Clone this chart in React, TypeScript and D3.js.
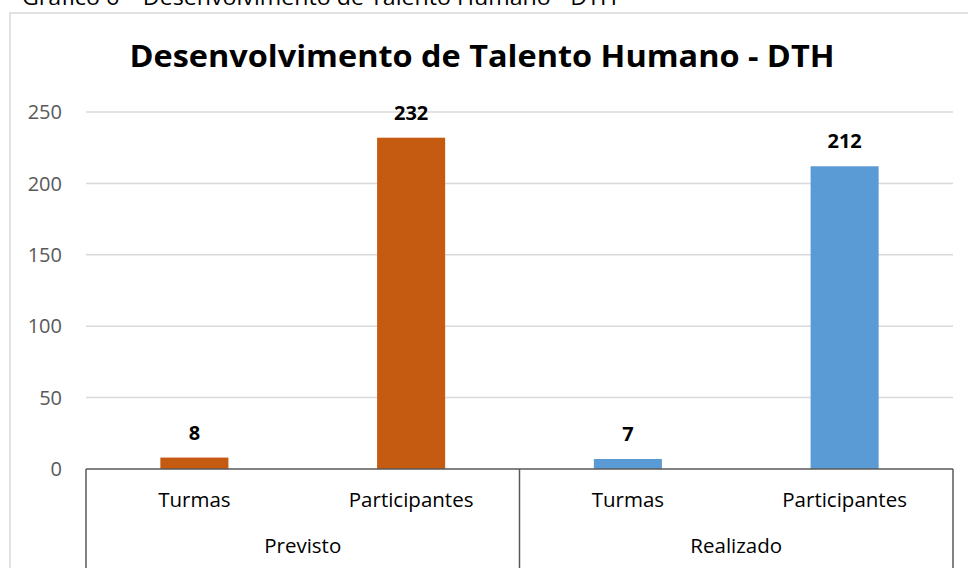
import * as d3 from "d3";

const groups = ["Previsto", "Realizado"];
const categories = ["Turmas", "Participantes"];
const previsto = [8, 232];
const realizado = [7, 212];
const yTicks = [0, 50, 100, 150, 200, 250];
const colors = ["#C55A11", "#5B9BD5"];
const title = "Desenvolvimento de Talento Humano - DTH";
const caption = "Gráfico 6 – Desenvolvimento de Talento Humano - DTH";

const W = 968;
const H = 568;
const font = "'Open Sans', sans-serif";

const App = () => {
    const margin = {top: 112, right: 15, bottom: 99, left: 86};
    const innerW = W - margin.left - margin.right;
    const y0 = H - margin.bottom;

    const series = [previsto, realizado];

    const x0 = d3.scaleBand<string>().domain(groups).range([margin.left, margin.left + innerW]);
    const x1 = d3.scaleBand<string>().domain(categories).range([0, x0.bandwidth()]);
    const y = d3.scaleLinear().domain([0, 250]).range([y0, margin.top]);

    const barW = x1.bandwidth() * 0.314;
    const x0Right = margin.left + innerW;

    return (
        <svg width={W} height={H} style={{position: "absolute", left: 0, top: 0}} fontFamily={font}>
            <rect width={W} height={H} fill="#fff"/>
            {/* caption, cut off at the top like the source */}
            <text x={22} y={5} fontSize={22} fill="#000" textLength={595} lengthAdjust="spacingAndGlyphs">{caption}</text>
            {/* chart border */}
            <rect x={10} y={13} width={W} height={H} fill="none" stroke="#d9d9d9" strokeWidth={1.5}/>
            <text x={482} y={67} textAnchor="middle" fontSize={30} fontWeight="bold" fill="#000"
                  textLength={705} lengthAdjust="spacingAndGlyphs">{title}</text>

            {/* gridlines */}
            {yTicks.filter(t => t > 0).map(t => (
                <line key={t} x1={margin.left} x2={x0Right} y1={y(t)} y2={y(t)} stroke="#d9d9d9" strokeWidth={1.5}/>
            ))}
            {yTicks.map(t => (
                <text key={"l" + t} x={62} y={y(t)} dy="0.36em" textAnchor="end" fontSize={20} fill="#595959">{t}</text>
            ))}

            {/* bars */}
            {groups.map((g, gi) => categories.map((c, ci) => {
                const v = series[gi][ci];
                const cx = (x0(g) ?? 0) + (x1(c) ?? 0) + x1.bandwidth() / 2;
                return (
                    <g key={g + c}>
                        <rect x={cx - barW / 2} y={y(v)} width={barW} height={y0 - y(v)} fill={colors[gi]}/>
                        <text x={cx} y={y(v) - 18} textAnchor="middle" fontSize={20} fontWeight="bold" fill="#000">{v}</text>
                        <text x={cx} y={507} textAnchor="middle" fontSize={20.5} fill="#000">{c}</text>
                    </g>
                );
            }))}

            {/* axis and group separators */}
            <line x1={margin.left} x2={x0Right} y1={y0} y2={y0} stroke="#595959" strokeWidth={1.5}/>
            {[...groups.map(g => x0(g) ?? 0), x0Right].map((xv, i) => (
                <line key={"s" + i} x1={xv} x2={xv} y1={y0} y2={H} stroke="#595959" strokeWidth={1.5}/>
            ))}
            {groups.map(g => (
                <text key={"g" + g} x={(x0(g) ?? 0) + x0.bandwidth() / 2} y={553} textAnchor="middle" fontSize={20.5} fill="#000">{g}</text>
            ))}
        </svg>
    );
};

export default App;
